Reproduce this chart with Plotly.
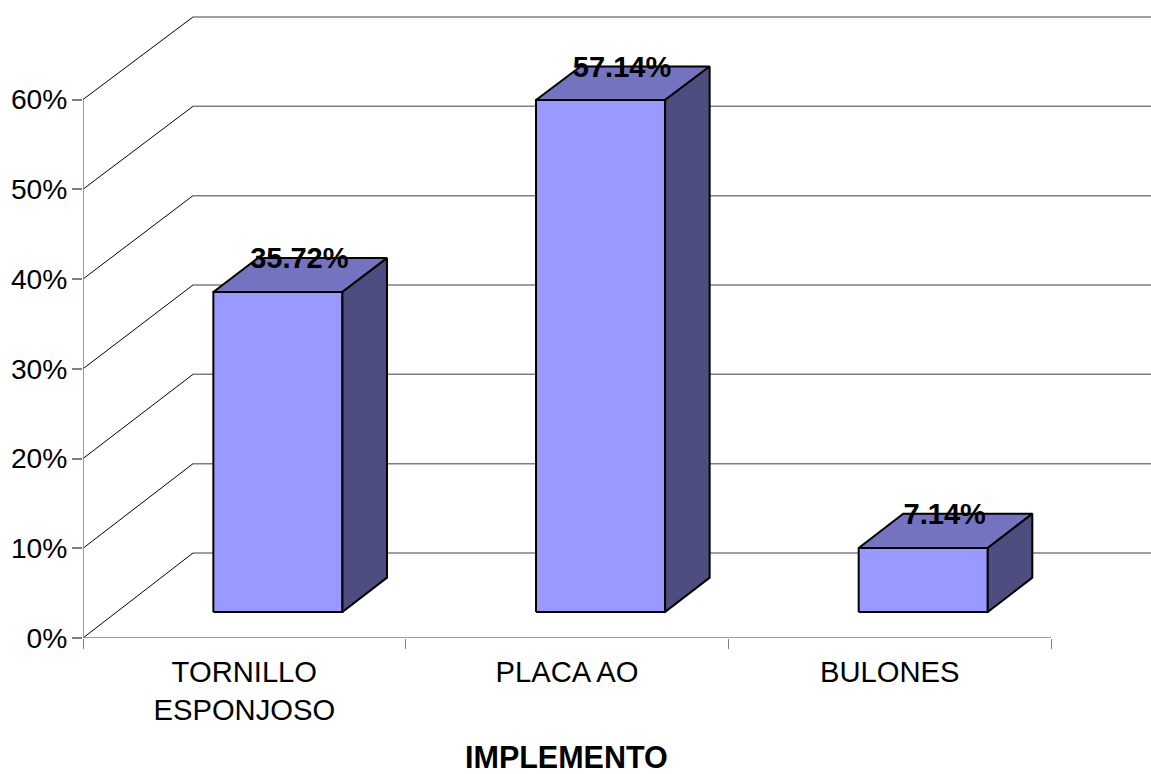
import plotly.graph_objects as go

# Chart content
categories = ["TORNILLO<br>ESPONJOSO", "PLACA AO", "BULONES"]
values = [35.72, 57.14, 7.14]
y_ticks = [0, 10, 20, 30, 40, 50, 60]
x_title = "IMPLEMENTO"

# Pixel scale of the plot area and the oblique projection of the depth axis
PX_PER_CATEGORY = 322.67
PX_PER_PERCENT = 8.975
DEPTH_X = 110 / PX_PER_CATEGORY
DEPTH_Y = 85 / PX_PER_PERCENT
DEPTH_SHRINK = 0.0046
BAR_WIDTH = 0.4
BAR_FRONT = 0.305
BAR_BACK = 0.71
LABEL_NUDGE = -0.33

FONT = "Liberation Sans, Arial, sans-serif"
FRONT_COLOR = "#9999FF"
TOP_COLOR = "#7373BF"
SIDE_COLOR = "#4D4D80"
AXIS_COLOR = "#7F7F7F"


def project(x, y, depth):
    return x + depth * DEPTH_X, y * (1 - depth * DEPTH_SHRINK) + depth * DEPTH_Y


def polyline(points, **line):
    xs, ys = zip(*points)
    return go.Scatter(x=xs, y=ys, mode="lines", line=line, cliponaxis=False,
                      hoverinfo="skip", showlegend=False)


def face(points, color):
    xs, ys = zip(*(points + points[:1]))
    return go.Scatter(x=xs, y=ys, mode="lines", fill="toself", fillcolor=color,
                      line=dict(color="black", width=2), cliponaxis=False,
                      hoverinfo="skip", showlegend=False)


fig = go.Figure()

# Side wall and back wall gridlines
n = len(categories)
for v in y_ticks:
    fig.add_trace(polyline([project(0, v, 0), project(0, v, 1)], color="black", width=1))
    fig.add_trace(polyline([project(0, v, 1), project(n, v, 1)], color=AXIS_COLOR, width=1.5))

# Front axis lines stop at the last tick, short of the plot area's edge
fig.add_trace(polyline([(0, 0), (0, y_ticks[-1])], color=AXIS_COLOR, width=1.5))
fig.add_trace(polyline([(0, 0), (n, 0)], color=AXIS_COLOR, width=1.5))

# Extruded bars: front, top and right-hand faces
label_x, label_y = [], []
for i, v in enumerate(values):
    x0 = i + 0.5 - BAR_WIDTH / 2
    x1 = i + 0.5 + BAR_WIDTH / 2
    fig.add_trace(face([project(x0, 0, BAR_FRONT), project(x1, 0, BAR_FRONT),
                        project(x1, v, BAR_FRONT), project(x0, v, BAR_FRONT)], FRONT_COLOR))
    fig.add_trace(face([project(x0, v, BAR_FRONT), project(x1, v, BAR_FRONT),
                        project(x1, v, BAR_BACK), project(x0, v, BAR_BACK)], TOP_COLOR))
    fig.add_trace(face([project(x1, 0, BAR_FRONT), project(x1, 0, BAR_BACK),
                        project(x1, v, BAR_BACK), project(x1, v, BAR_FRONT)], SIDE_COLOR))
    _, ly = project(i + 0.5, v, BAR_BACK)
    label_x.append(i + 0.5 + 0.5 * DEPTH_X)
    label_y.append(ly + LABEL_NUDGE)

# Value labels sit on the rear edge of each bar's top face
fig.add_trace(go.Scatter(x=label_x, y=label_y, mode="text",
                         text=[f"{v:.2f}%" for v in values],
                         textposition="middle center",
                         textfont=dict(family=FONT, size=29, color="black"),
                         texttemplate="<b>%{text}</b>",
                         cliponaxis=False, hoverinfo="skip", showlegend=False))

# The plot area runs to the top and right page edges so the walls fit inside it
plot_left, plot_bottom = 83, 136
page_w, page_h = 1151, 774

fig.update_layout(
    width=page_w, height=page_h,
    margin=dict(l=plot_left, r=0, t=0, b=plot_bottom, autoexpand=False),
    paper_bgcolor="white", plot_bgcolor="rgba(0,0,0,0)",
    showlegend=False,
    font=dict(family=FONT, size=28, color="black"),
    xaxis=dict(
        range=[0, (page_w - plot_left) / PX_PER_CATEGORY],
        showgrid=False, zeroline=False, showline=False,
        tickmode="array", tickvals=[i + 0.5 for i in range(n)], ticktext=categories,
        ticks="", ticklabelstandoff=14,
        tickfont=dict(family=FONT, size=29.2, color="black"),
        minor=dict(tickmode="array", tickvals=list(range(n + 1)), ticks="outside",
                   ticklen=10, tickwidth=1, tickcolor=AXIS_COLOR, showgrid=False),
    ),
    yaxis=dict(
        range=[0, (page_h - plot_bottom) / PX_PER_PERCENT],
        showgrid=False, zeroline=False, showline=False,
        tickmode="array", tickvals=y_ticks, ticktext=[f"{v}%" for v in y_ticks],
        ticks="outside", ticklen=10, tickwidth=1.5, tickcolor=AXIS_COLOR,
        ticklabelstandoff=-1,
        tickfont=dict(family=FONT, size=28.2, color="black"),
    ),
    annotations=[dict(
        text=f"<b>{x_title}</b>", x=n / 2, xref="x", y=0, yref="paper",
        yanchor="middle", xanchor="center", xshift=-1, yshift=-119, showarrow=False,
        font=dict(family=FONT, size=30.5, color="black"),
    )],
)

fig.write_html("out.html", config={"displayModeBar": False})
